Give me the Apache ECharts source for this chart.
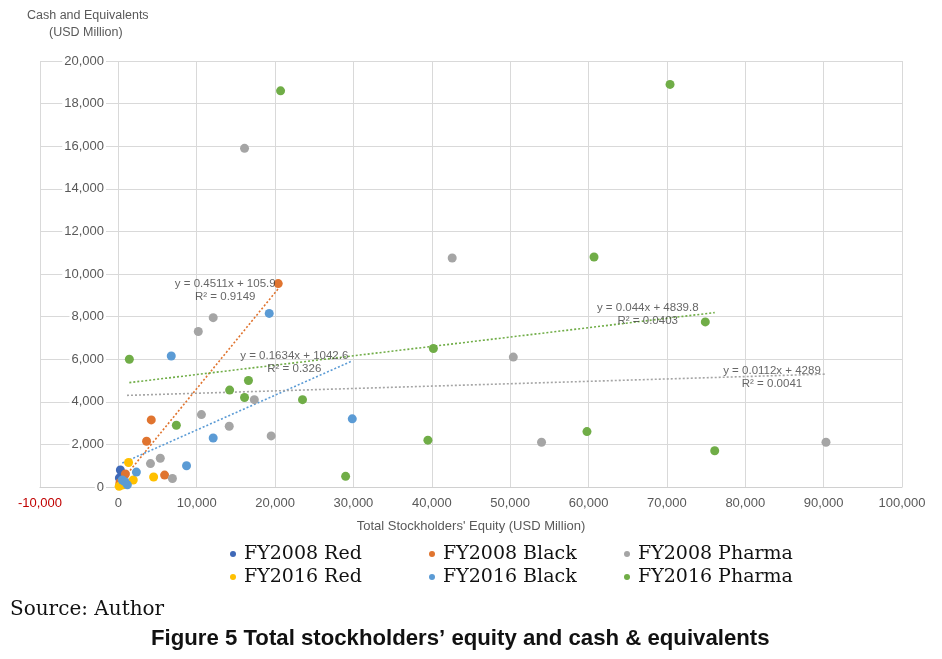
<!DOCTYPE html>
<html>
<head>
<meta charset="utf-8">
<script src="https://cdn.jsdelivr.net/npm/echarts@6/dist/echarts.min.js"></script>
<style>
html,body{margin:0;padding:0;background:#fff;}
#chart{width:942px;height:659px;}
</style>
</head>
<body>
<div id="chart"></div>
<script>
// ---- data ----
const seriesNames = ['FY2008 Red','FY2008 Black','FY2008 Pharma','FY2016 Red','FY2016 Black','FY2016 Pharma'];
const seriesColors = ['#3F69B8','#E0742F','#A5A5A5','#FFC000','#5B9BD5','#70AD47'];

const fy2008Red = [[255,800],[510,560],[130,420],[380,240],[200,100]];
const fy2008Black = [[20400,9550],[4200,3150],[3600,2150],[5900,560],[900,610],[200,200],[500,100]];
const fy2008Pharma = [[16100,15900],[42600,10750],[10200,7300],[12100,7950],[50400,6100],[17350,4100],
  [10600,3400],[14150,2850],[19500,2400],[54000,2100],[90300,2100],[5350,1350],[4100,1100],[6900,400],[1100,200]];
const fy2016Red = [[1300,1150],[4500,470],[1900,330],[100,30],[600,100]];
const fy2016Black = [[19250,8150],[6750,6150],[29850,3200],[12100,2300],[8700,1000],[2300,700],[1150,100],[500,330],[800,250]];
const fy2016Pharma = [[20700,18600],[70400,18900],[60700,10800],[74900,7750],[1400,6000],[40200,6500],
  [14200,4550],[16600,5000],[16100,4200],[7400,2900],[23500,4100],[39500,2200],[59800,2600],[76100,1700],[29000,500]];

// trendlines shown on the chart: series index, slope, intercept, equation text, R² text
const trendSeries = [1, 4, 5, 2];
const trendSlope = [0.4511, 0.1634, 0.044, 0.0112];
const trendIntercept = [105.9, 1042.6, 4839.8, 4289];
const trendEq = ['y = 0.4511x + 105.9','y = 0.1634x + 1042.6','y = 0.044x + 4839.8','y = 0.0112x + 4289'];
const trendR2 = ['R² = 0.9149','R² = 0.326','R² = 0.0403','R² = 0.0041'];

const xTicks = [-10000,0,10000,20000,30000,40000,50000,60000,70000,80000,90000,100000];
const yTicks = [0,2000,4000,6000,8000,10000,12000,14000,16000,18000,20000];

// ---- chart ----
const allData = [fy2008Red, fy2008Black, fy2008Pharma, fy2016Red, fy2016Black, fy2016Pharma];
const fmt = v => Number(v).toLocaleString('en-US');
const labelOffsets = [[-53,2],[-58,1],[-67,2],[-54,3]];

const series = [];
trendSeries.forEach((si, k) => {
  const xs = allData[si].map(p => p[0]);
  const x0 = Math.min(...xs), x1 = Math.max(...xs);
  const f = x => trendSlope[k] * x + trendIntercept[k];
  series.push({
    type: 'line', silent: true, symbol: 'none', z: 3,
    data: [[x0, f(x0)], [x1, f(x1)]],
    lineStyle: {type: [2, 2], width: 1.6, color: seriesColors[si]},
    tooltip: {show: false}
  });
  series.push({
    type: 'scatter', silent: true, symbolSize: 1, z: 5,
    itemStyle: {color: 'rgba(0,0,0,0)'},
    data: [[x1, f(x1)]],
    label: {
      show: true, position: 'inside', offset: labelOffsets[k],
      formatter: trendEq[k] + '\n' + trendR2[k],
      fontFamily: 'Liberation Sans', fontSize: 11.5, color: '#404040', lineHeight: 13, align: 'center'
    }
  });
});
allData.forEach((d, i) => {
  series.push({
    name: seriesNames[i], type: 'scatter', data: d, symbolSize: 9, z: 4,
    itemStyle: {color: seriesColors[i], opacity: 1}
  });
});

const legendCommon = {
  orient: 'vertical', icon: 'circle', itemWidth: 16, itemHeight: 6, itemGap: 3,
  textStyle: {fontFamily: 'DejaVu Serif', fontSize: 19, color: '#111', lineHeight: 20, padding: [0,0,0,-2]},
  top: 539
};

const chart = echarts.init(document.getElementById('chart'), null, {renderer: 'canvas'});
chart.setOption({
  animation: false,
  color: seriesColors,
  grid: {left: 40, right: 40, top: 61, bottom: 172, containLabel: false, outerBoundsMode: 'none'},
  xAxis: {
    type: 'value', min: xTicks[0], max: xTicks[xTicks.length-1], interval: 10000,
    name: "Total Stockholders' Equity (USD Million)", nameLocation: 'middle', nameGap: 33,
    nameTextStyle: {fontFamily: 'Liberation Sans', fontSize: 13, color: '#595959'},
    axisLine: {show: true, onZero: false, lineStyle: {color: '#d0d0d0', width: 1}},
    axisTick: {show: false},
    splitLine: {show: true, lineStyle: {color: '#d9d9d9', width: 1}},
    axisLabel: {
      margin: 10, fontFamily: 'Liberation Sans', fontSize: 13,
      color: v => (v < 0 ? '#C00000' : '#595959'),
      formatter: v => fmt(v)
    }
  },
  yAxis: {
    type: 'value', min: yTicks[0], max: yTicks[yTicks.length-1], interval: 2000,
    axisLine: {show: false, onZero: false},
    axisTick: {show: false},
    splitLine: {show: true, lineStyle: {color: '#d9d9d9', width: 1}},
    axisLabel: {
      margin: -66, fontFamily: 'Liberation Sans', fontSize: 13, color: '#595959',
      backgroundColor: '#fff', padding: [0, 2], align: 'right',
      formatter: v => fmt(v)
    }
  },
  legend: [
    Object.assign({}, legendCommon, {left: 225, data: [seriesNames[0], seriesNames[3]]}),
    Object.assign({}, legendCommon, {left: 424, data: [seriesNames[1], seriesNames[4]]}),
    Object.assign({}, legendCommon, {left: 619, data: [seriesNames[2], seriesNames[5]]})
  ],
  graphic: [
    {type: 'text', left: 27, top: 9, style: {text: 'Cash and Equivalents', font: '12.5px "Liberation Sans"', fill: '#595959'}},
    {type: 'text', left: 49, top: 26, style: {text: '(USD Million)', font: '12.5px "Liberation Sans"', fill: '#595959'}},
    {type: 'text', left: 10, top: 600, style: {text: 'Source: Author', font: '20px "DejaVu Serif"', fill: '#111'}},
    {type: 'text', left: 151, top: 628, style: {text: 'Figure 5 Total stockholders’ equity and cash & equivalents', font: 'bold 22.2px "Liberation Sans"', fill: '#111'}}
  ],
  series: series
});
</script>
</body>
</html>
